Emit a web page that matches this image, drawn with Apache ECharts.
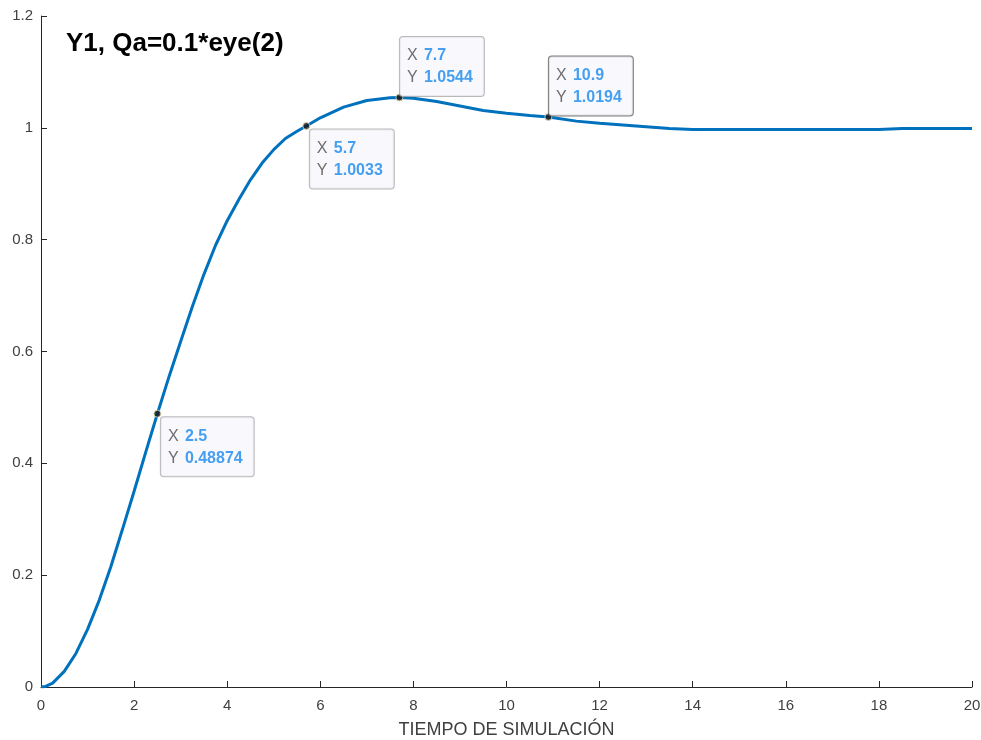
<!DOCTYPE html>
<html>
<head>
<meta charset="utf-8">
<title>Y1, Qa=0.1*eye(2)</title>
<script src="https://cdn.jsdelivr.net/npm/echarts@6/dist/echarts.min.js"></script>
<style>
  html, body { margin: 0; padding: 0; background: #ffffff; }
  #chart { width: 981px; height: 740px; }
</style>
</head>
<body>
<div id="chart"></div>
<script>
// Step response of output Y1 (time in seconds of simulation)
const timeValues = [
  0, 0.1, 0.25, 0.5, 0.75, 1.0, 1.25, 1.5, 1.75, 2.0, 2.25, 2.5, 2.75, 3.0,
  3.25, 3.5, 3.75, 4.0, 4.25, 4.5, 4.75, 5.0, 5.25, 5.5, 5.7, 6.0, 6.5, 7.0,
  7.5, 7.7, 8.0, 8.5, 9.0, 9.5, 10.0, 10.5, 10.9, 11.5, 12.0, 12.5, 13.0,
  13.5, 14.0, 15.0, 16.0, 17.0, 18.0, 18.5, 19.0, 20.0
];
const y1Values = [
  0, 0.001, 0.007, 0.028, 0.060, 0.103, 0.155, 0.215, 0.282, 0.350, 0.420,
  0.48874, 0.555, 0.618, 0.680, 0.738, 0.790, 0.834, 0.872, 0.907, 0.937,
  0.961, 0.981, 0.994, 1.0033, 1.018, 1.037, 1.049, 1.054, 1.0544, 1.053,
  1.047, 1.039, 1.031, 1.026, 1.022, 1.0194, 1.012, 1.008, 1.005, 1.002,
  0.999, 0.997, 0.997, 0.997, 0.997, 0.997, 0.999, 0.999, 0.999
];

// Data tips placed on the curve
const tipX = [2.5, 5.7, 7.7, 10.9];
const tipY = [0.48874, 1.0033, 1.0544, 1.0194];
const tipYText = ['0.48874', '1.0033', '1.0544', '1.0194'];
const tipBelow = [true, true, false, false];
const tipActive = [false, false, false, true];

// Axis ticks
const xTicks = { min: 0, max: 20, step: 2 };
const yTicks = { min: 0, max: 1.2, step: 0.2 };

const titleText = 'Y1, Qa=0.1*eye(2)';
const xAxisName = 'TIEMPO DE SIMULACIÓN';

const FONT = '"Liberation Sans", Arial, Helvetica, sans-serif';
const AXIS_COLOR = '#262626';
const LABEL_COLOR = '#404040';

const curve = timeValues.map((t, i) => [t, y1Values[i]]);

const tipData = tipX.map((x, i) => ({
  value: [x, tipY[i]],
  label: {
    show: true,
    position: tipBelow[i] ? [7.5, 7.5] : [4.5, 2.5],
    align: 'left',
    verticalAlign: tipBelow[i] ? 'top' : 'bottom',
    formatter: '{k|X} {v|' + x + '}\n{k|Y} {v|' + tipYText[i] + '}',
    backgroundColor: '#f8f8fd',
    borderColor: tipActive[i] ? '#5a5a5a' : '#a8a8a8',
    borderWidth: 1,
    borderRadius: 3,
    padding: [8, 11, 7, 7],
    lineHeight: 22,
    rich: {
      k: { color: '#4a4a4a', fontSize: 16, fontFamily: FONT, lineHeight: 22, padding: [0, 3, 0, 0] },
      v: { color: '#1888ee', fontSize: 16, fontFamily: FONT, fontWeight: 'bold', lineHeight: 22 }
    }
  }
}));

const chart = echarts.init(document.getElementById('chart'), null, { renderer: 'canvas' });

chart.setOption({
  animation: false,
  backgroundColor: '#ffffff',
  title: {
    text: titleText,
    left: 66,
    top: 31,
    padding: 0,
    textStyle: { fontFamily: FONT, fontSize: 26, fontWeight: 'bold', color: '#000000' }
  },
  grid: {
    left: 41, right: 9, top: 16, bottom: 53,
    containLabel: false,
    outerBoundsMode: 'none'
  },
  xAxis: {
    type: 'value',
    min: xTicks.min,
    max: xTicks.max,
    interval: xTicks.step,
    name: xAxisName,
    nameLocation: 'middle',
    nameGap: 34,
    nameTextStyle: { fontFamily: FONT, fontSize: 18, color: LABEL_COLOR },
    axisLine: { show: true, onZero: false, lineStyle: { color: AXIS_COLOR, width: 1 } },
    axisTick: { show: true, inside: true, length: 6, lineStyle: { color: AXIS_COLOR } },
    axisLabel: { fontFamily: FONT, fontSize: 15, color: LABEL_COLOR, margin: 11 },
    splitLine: { show: false }
  },
  yAxis: {
    type: 'value',
    min: yTicks.min,
    max: yTicks.max,
    interval: yTicks.step,
    axisLine: { show: true, onZero: false, lineStyle: { color: AXIS_COLOR, width: 1 } },
    axisTick: { show: true, inside: true, length: 6, lineStyle: { color: AXIS_COLOR } },
    axisLabel: {
      fontFamily: FONT, fontSize: 15, color: LABEL_COLOR, margin: 8,
      formatter: v => (Math.round(v * 10) / 10).toString()
    },
    splitLine: { show: false }
  },
  series: [
    {
      name: 'Y1',
      type: 'line',
      data: curve,
      showSymbol: false,
      smooth: false,
      lineStyle: { color: '#0072BD', width: 3 },
      z: 2
    },
    {
      name: 'datatips',
      type: 'scatter',
      data: tipData,
      symbol: 'circle',
      symbolSize: 7,
      itemStyle: { color: '#151515', borderColor: '#e8e2c0', borderWidth: 1 },
      z: 5
    }
  ]
});
</script>
</body>
</html>
